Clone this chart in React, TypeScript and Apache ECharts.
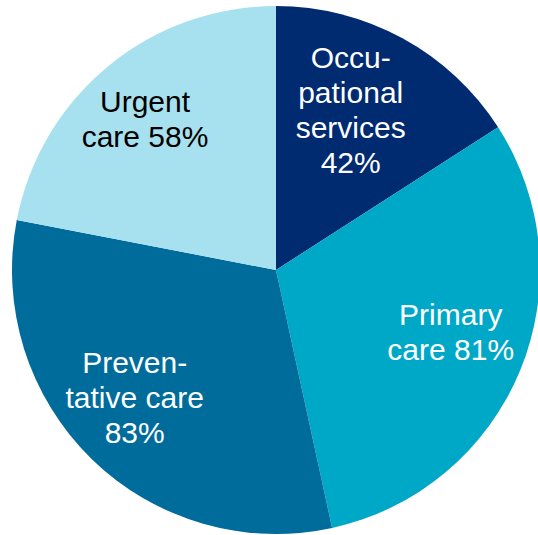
import React, { useEffect, useRef } from "react";
import * as echarts from "echarts";

const categories = ["Occupational services", "Primary care", "Preventative care", "Urgent care"];
const labelTexts = ["Occu-\npational\nservices", "Primary\ncare", "Preven-\ntative care", "Urgent\ncare"];
const values = [42, 81, 83, 58];
const colors = ["#002B70", "#00A8C8", "#006C9C", "#A7E1EF"];
const textColors = ["#FFFFFF", "#FFFFFF", "#FFFFFF", "#000000"];
const labelOffsets = [
  [10, -42],
  [50, 10],
  [-47, 31],
  [-45, -47],
];

export default function App() {
  const ref = useRef<HTMLDivElement>(null);
  useEffect(() => {
    if (!ref.current) return;
    const chart = echarts.init(ref.current, null, { renderer: "svg" });
    chart.setOption({
      animation: false,
      backgroundColor: "#FFFFFF",
      series: [
        {
          type: "pie",
          center: [276, 270],
          radius: [0, 264],
          startAngle: 90,
          clockwise: true,
          avoidLabelOverlap: false,
          labelLine: { show: false },
          itemStyle: { borderWidth: 0 },
          emphasis: { disabled: true },
          label: {
            show: true,
            position: "inside",
            fontFamily: "Liberation Sans, Arial, sans-serif",
            fontSize: 30,
            lineHeight: 35,
            align: "center",
          },
          labelLayout: (params: any) => ({
            dx: labelOffsets[params.dataIndex][0],
            dy: labelOffsets[params.dataIndex][1],
          }),
          data: categories.map((name, i) => ({
            name,
            value: values[i],
            itemStyle: { color: colors[i] },
            label: {
              color: textColors[i],
              formatter: () => {
                const t = labelTexts[i];
                if (i === 1 || i === 3) return t + " " + values[i] + "%";
                return t + "\n" + values[i] + "%";
              },
            },
          })),
        },
      ],
    });
    return () => chart.dispose();
  }, []);
  return (
    <div
      ref={ref}
      style={{ position: "fixed", left: 0, top: 0, width: 538, height: 535 }}
    />
  );
}
